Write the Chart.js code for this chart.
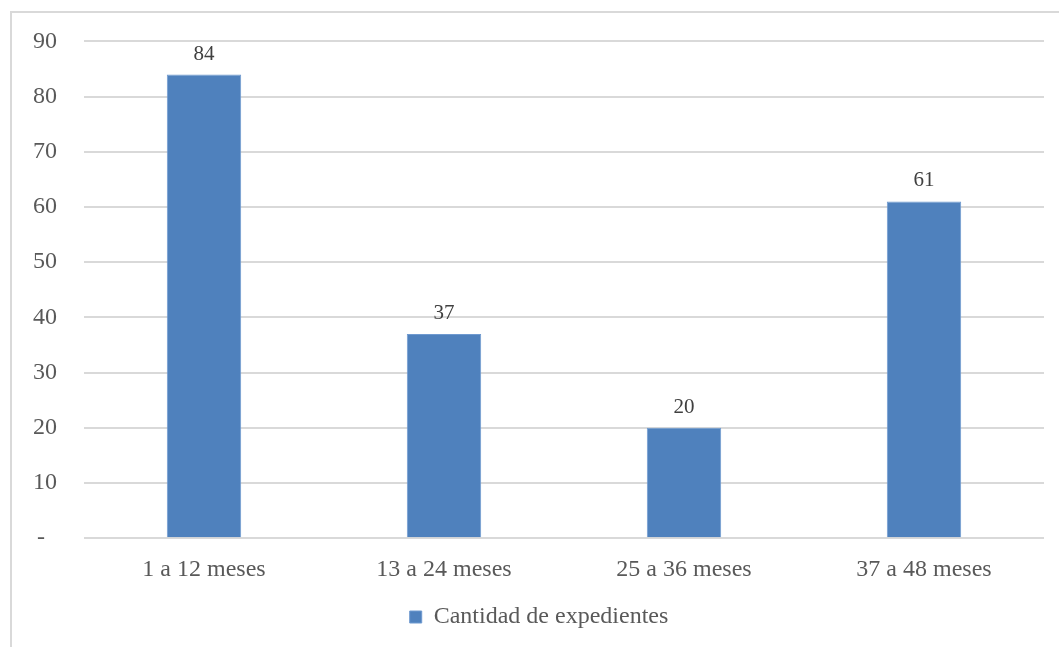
<!DOCTYPE html>
<html>
<head>
<meta charset="utf-8">
<script src="https://cdn.jsdelivr.net/npm/chart.js@4.4.1/dist/chart.umd.min.js"></script>
<style>
  html, body { margin: 0; padding: 0; background: #fff; }
  #wrap { width: 1059px; height: 647px; }
</style>
</head>
<body>
<div id="wrap"><canvas id="barChart" width="1059" height="647"></canvas></div>
<script>
const categories = ["1 a 12 meses", "13 a 24 meses", "25 a 36 meses", "37 a 48 meses"];
const expedientes = [84, 37, 20, 61];
const seriesName = "Cantidad de expedientes";
const yTicks = [0, 10, 20, 30, 40, 50, 60, 70, 80, 90];

const serif = "'Liberation Serif', 'Times New Roman', serif";

// light frame around the whole chart, runs off the right/bottom edge
const framePlugin = {
  id: 'frame',
  beforeDraw(chart) {
    const c = chart.ctx;
    c.save();
    c.strokeStyle = '#d9d9d9';
    c.lineWidth = 2;
    c.strokeRect(11, 12, chart.width + 20, chart.height + 20);
    c.restore();
  }
};

// legend sits centred under the plot area, not the whole canvas
const legendShift = {
  id: 'legendShift',
  afterLayout(chart) {
    chart.legend.left += 17;
    chart.legend.right += 17;
  }
};

const valueLabels = {
  id: 'valueLabels',
  afterDatasetsDraw(chart) {
    const c = chart.ctx;
    c.save();
    c.font = "21px " + serif;
    c.fillStyle = '#404040';
    c.textAlign = 'center';
    c.textBaseline = 'bottom';
    chart.getDatasetMeta(0).data.forEach((bar, i) => {
      c.fillText(chart.data.datasets[0].data[i], bar.x, bar.y - 10);
    });
    c.restore();
  }
};

new Chart(document.getElementById("barChart"), {
  type: 'bar',
  data: {
    labels: categories,
    datasets: [{
      label: seriesName,
      data: expedientes,
      backgroundColor: '#4f81bd',
      borderColor: '#6f9ad0',
      borderWidth: 1,
      categoryPercentage: 1,
      barPercentage: 0.31
    }]
  },
  options: {
    responsive: false,
    animation: false,
    layout: { padding: { top: 31, right: 15, left: 0, bottom: 8 } },
    plugins: {
      tooltip: { enabled: false },
      legend: {
        position: 'bottom',
        labels: {
          font: { family: serif, size: 24 },
          color: '#595959',
          boxWidth: 12,
          boxHeight: 12,
          padding: 12
        }
      }
    },
    scales: {
      x: {
        grid: { display: false },
        border: { display: false },
        ticks: {
          font: { family: serif, size: 24 },
          color: '#595959',
          padding: 9
        }
      },
      y: {
        min: 0,
        max: 90,
        afterFit(scale) { scale.width = 84; },
        afterBuildTicks(scale) { scale.ticks = yTicks.map(v => ({ value: v })); },
        grid: { color: '#d9d9d9', lineWidth: 2, drawTicks: false },
        border: { display: false },
        ticks: {
          font: { family: serif, size: 24 },
          color: '#595959',
          padding: 27,
          callback: v => v === 0 ? '-\u00a0\u00a0' : v
        }
      }
    }
  },
  plugins: [framePlugin, legendShift, valueLabels]
});
</script>
</body>
</html>
